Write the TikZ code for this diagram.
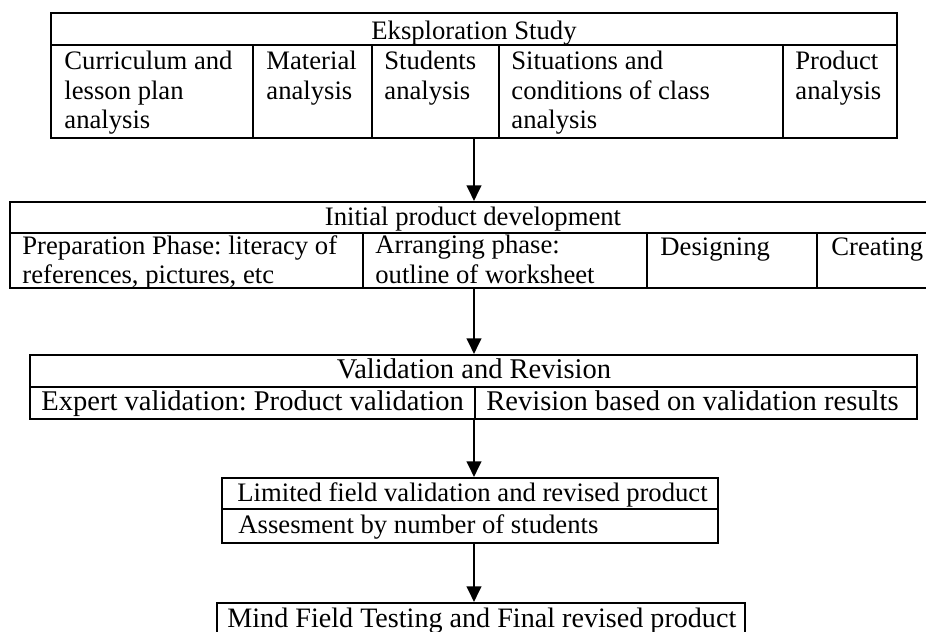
\documentclass[tikz,border=0pt]{standalone}
\usepackage{fontspec}
\setmainfont{Liberation Serif}
\usetikzlibrary{arrows.meta,fit}
\frenchspacing

\begin{document}
\begin{tikzpicture}[
  x=0.48pt, y=-0.48pt,
  font=\fontsize{12.8}{14}\selectfont,
  >={Triangle[length=7.5pt,width=7pt]},
  frame/.style={draw, line width=1pt, inner sep=0pt},
  rule/.style={line width=1pt},
  head/.style={anchor=base, inner sep=0pt},
  cell/.style={anchor=north west, inner sep=0pt, align=left,
    execute at begin node=\strut},
  wide/.style={font=\fontsize{13.7}{14}\selectfont},
  flow/.style={line width=1pt, ->}
]
  \useasboundingbox (0,0) rectangle (926,631);
  \clip (0,0) rectangle (926,631);

  % Exploration study
  \node[frame, fit={(51,13) (897,138)}] (explo) {};
  \draw[rule] (51,45) -- (897,45);
  \foreach \x in {253,372,499,783}
    \draw[rule] (\x,45) -- (\x,138);
  \node[head] (explot) at (474,39) {Eksploration Study};
  \node[cell] (curric) at (64,51) {Curriculum and\\lesson plan\\analysis};
  \node[cell] (mater) at (266,51) {Material\\analysis};
  \node[cell] (stud) at (384,51) {Students\\analysis};
  \node[cell] (situ) at (511,51) {Situations and\\conditions of class\\analysis};
  \node[cell] (prodan) at (795,51) {Product\\analysis};

  % Initial product development (runs past the right edge)
  \node[frame, fit={(10,202) (940,288)}] (initial) {};
  \draw[rule] (10,233) -- (940,233);
  \foreach \x in {363,647,817}
    \draw[rule] (\x,233) -- (\x,288);
  \node[head] (initialt) at (473,225) {Initial product development};
  \node[cell] (prep) at (22,235) {Preparation Phase: literacy of\\references, pictures, etc};
  \node[cell] (arrange) at (375,235) {Arranging phase:\\outline of worksheet};
  \node[cell] (design) at (660,235) {Designing};
  \node[cell] (create) at (831,235) {Creating};

  % Validation and revision
  \node[frame, fit={(30,355) (917,419)}] (valid) {};
  \draw[rule] (30,387) -- (917,387);
  \draw[rule] (475,387) -- (475,419);
  \node[head, wide] (validt) at (474,378) {Validation and Revision};
  \node[cell, wide] (expert) at (41,390) {Expert validation: Product validation};
  \node[cell, wide] (revis) at (486,390) {Revision based on validation results};

  % Limited field
  \node[frame, fit={(222,478) (718,543)}] (limit) {};
  \draw[rule] (222,509) -- (718,509);
  \node[cell] (limitt) at (237,481) {Limited field validation and revised product};
  \node[cell] (assess) at (238,513) {Assesment by number of students};

  % Mind field testing (runs past the bottom edge)
  \node[frame, fit={(217,603) (745,650)}] (mind) {};
  \node[cell, font=\fontsize{13.5}{14}\selectfont] (mindt) at (227,607) {Mind Field Testing and Final revised product};

  % flow
  \draw[flow] (explo.south) -- (explo.south |- initial.north);
  \draw[flow] (initial.south -| explo.south) -- (explo.south |- valid.north);
  \draw[flow] (valid.south -| explo.south) -- (explo.south |- limit.north);
  \draw[flow] (limit.south -| explo.south) -- (explo.south |- mind.north);
\end{tikzpicture}
\end{document}
